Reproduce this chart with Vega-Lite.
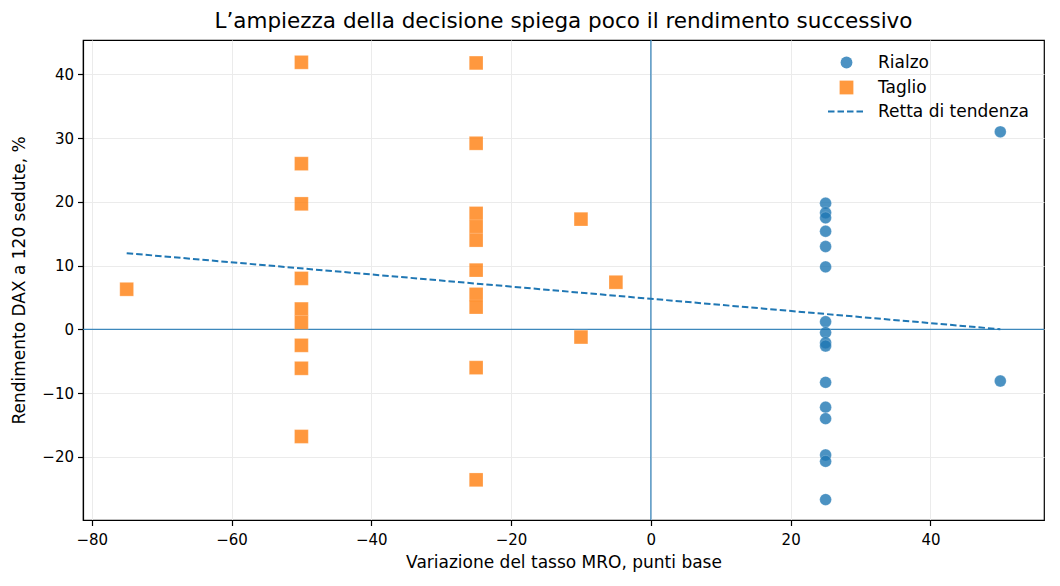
{
  "$schema": "https://vega.github.io/schema/vega-lite/v6.json",
  "width": 961,
  "height": 480,
  "autosize": {"type": "none"},
  "padding": {"left": 83, "top": 40, "right": 16, "bottom": 66},
  "background": "white",
  "title": {
    "text": "L’ampiezza della decisione spiega poco il rendimento successivo",
    "font": "DejaVu Sans",
    "fontSize": 21.5,
    "fontWeight": "normal",
    "color": "black",
    "anchor": "middle",
    "offset": 7
  },
  "datasets": {
    "punti": [
      {"tipo": "Taglio", "bp": -75, "ret": 6.3},
      {"tipo": "Taglio", "bp": -50, "ret": 41.9},
      {"tipo": "Taglio", "bp": -50, "ret": 26.0},
      {"tipo": "Taglio", "bp": -50, "ret": 19.7},
      {"tipo": "Taglio", "bp": -50, "ret": 8.0},
      {"tipo": "Taglio", "bp": -50, "ret": 3.2},
      {"tipo": "Taglio", "bp": -50, "ret": 1.1},
      {"tipo": "Taglio", "bp": -50, "ret": -2.5},
      {"tipo": "Taglio", "bp": -50, "ret": -6.1},
      {"tipo": "Taglio", "bp": -50, "ret": -16.8},
      {"tipo": "Taglio", "bp": -25, "ret": 41.8},
      {"tipo": "Taglio", "bp": -25, "ret": 29.2},
      {"tipo": "Taglio", "bp": -25, "ret": 18.2},
      {"tipo": "Taglio", "bp": -25, "ret": 16.1},
      {"tipo": "Taglio", "bp": -25, "ret": 14.0},
      {"tipo": "Taglio", "bp": -25, "ret": 9.3},
      {"tipo": "Taglio", "bp": -25, "ret": 5.5},
      {"tipo": "Taglio", "bp": -25, "ret": 3.5},
      {"tipo": "Taglio", "bp": -25, "ret": -6.0},
      {"tipo": "Taglio", "bp": -25, "ret": -23.6},
      {"tipo": "Taglio", "bp": -10, "ret": 17.3},
      {"tipo": "Taglio", "bp": -10, "ret": -1.2},
      {"tipo": "Taglio", "bp": -5, "ret": 7.4},
      {"tipo": "Rialzo", "bp": 25, "ret": 19.8},
      {"tipo": "Rialzo", "bp": 25, "ret": 18.3},
      {"tipo": "Rialzo", "bp": 25, "ret": 17.5},
      {"tipo": "Rialzo", "bp": 25, "ret": 15.4},
      {"tipo": "Rialzo", "bp": 25, "ret": 13.0},
      {"tipo": "Rialzo", "bp": 25, "ret": 9.8},
      {"tipo": "Rialzo", "bp": 25, "ret": 1.2},
      {"tipo": "Rialzo", "bp": 25, "ret": -0.5},
      {"tipo": "Rialzo", "bp": 25, "ret": -2.1},
      {"tipo": "Rialzo", "bp": 25, "ret": -2.6},
      {"tipo": "Rialzo", "bp": 25, "ret": -8.3},
      {"tipo": "Rialzo", "bp": 25, "ret": -12.2},
      {"tipo": "Rialzo", "bp": 25, "ret": -14.0},
      {"tipo": "Rialzo", "bp": 25, "ret": -19.7},
      {"tipo": "Rialzo", "bp": 25, "ret": -20.7},
      {"tipo": "Rialzo", "bp": 25, "ret": -26.7},
      {"tipo": "Rialzo", "bp": 50, "ret": 31.0},
      {"tipo": "Rialzo", "bp": 50, "ret": -8.1}
    ],
    "trend": [
      {"serie": "Retta di tendenza", "bp": -75, "ret": 11.96},
      {"serie": "Retta di tendenza", "bp": 50, "ret": 0.03}
    ],
    "ref": [{"zero": 0}]
  },
  "layer": [
    {
      "data": {"name": "ref"},
      "mark": {"type": "rule", "color": "#1f77b4", "strokeWidth": 1.3, "opacity": 0.85},
      "encoding": {
        "x": {"field": "zero", "type": "quantitative", "scale": {"domain": [-81.25, 56.25], "nice": false, "zero": false}}
      }
    },
    {
      "data": {"name": "ref"},
      "mark": {"type": "rule", "color": "#1f77b4", "strokeWidth": 1.3, "opacity": 0.85},
      "encoding": {
        "y": {"field": "zero", "type": "quantitative", "scale": {"domain": [-29.9, 45.4], "nice": false, "zero": false}}
      }
    },
    {
      "data": {"name": "punti"},
      "mark": {"type": "point", "filled": true, "opacity": 0.8, "stroke": "white", "strokeWidth": 0.4, "strokeOpacity": 0.6},
      "encoding": {
        "x": {
          "field": "bp", "type": "quantitative",
          "scale": {"domain": [-81.25, 56.25], "nice": false, "zero": false},
          "axis": {"values": [-80, -60, -40, -20, 0, 20, 40], "title": "Variazione del tasso MRO, punti base", "format": "d", "labelExpr": "replace(datum.label, '-', '−')"}
        },
        "y": {
          "field": "ret", "type": "quantitative",
          "scale": {"domain": [-29.9, 45.4], "nice": false, "zero": false},
          "axis": {"values": [-20, -10, 0, 10, 20, 30, 40], "title": "Rendimento DAX a 120 sedute, %", "format": "d", "labelExpr": "replace(datum.label, '-', '−')"}
        },
        "color": {
          "field": "tipo", "type": "nominal",
          "scale": {"domain": ["Rialzo", "Taglio"], "range": ["#1f77b4", "#ff7f0e"]},
          "legend": {
            "title": null, "orient": "none", "legendX": 755, "legendY": 14,
            "labelFont": "DejaVu Sans", "labelFontSize": 17, "labelColor": "black",
            "labelOffset": 23, "rowPadding": 7, "symbolSize": 170, "symbolOpacity": 0.8, "symbolStrokeWidth": 0
          }
        },
        "shape": {
          "field": "tipo", "type": "nominal",
          "scale": {"domain": ["Rialzo", "Taglio"], "range": ["circle", "square"]},
          "legend": null
        },
        "size": {
          "field": "tipo", "type": "nominal",
          "scale": {"domain": ["Rialzo", "Taglio"], "range": [140, 190]},
          "legend": null
        }
      }
    },
    {
      "data": {"name": "trend"},
      "mark": {"type": "line", "color": "#1f77b4", "strokeWidth": 2, "strokeDash": [6.5, 3]},
      "encoding": {
        "x": {"field": "bp", "type": "quantitative"},
        "y": {"field": "ret", "type": "quantitative"},
        "strokeDash": {
          "field": "serie", "type": "nominal",
          "scale": {"domain": ["Retta di tendenza"], "range": [[6.5, 3]]},
          "legend": {
            "title": null, "orient": "none", "legendX": 744, "legendY": 53,
            "labelFont": "DejaVu Sans", "labelFontSize": 17, "labelColor": "black",
            "labelOffset": 14, "symbolType": "stroke", "symbolSize": 1225,
            "symbolStrokeColor": "#1f77b4", "symbolStrokeWidth": 2, "symbolDash": [6.5, 3]
          }
        }
      }
    }
  ],
  "config": {
    "view": {"stroke": "black", "strokeWidth": 1.2},
    "axis": {
      "domainColor": "black",
      "domainWidth": 1.2,
      "gridColor": "#ebebeb",
      "gridWidth": 1,
      "tickColor": "black",
      "tickSize": 5.5,
      "tickWidth": 1.2,
      "labelFont": "DejaVu Sans",
      "labelFontSize": 15,
      "labelColor": "black",
      "labelPadding": 4,
      "titleFont": "DejaVu Sans",
      "titleFontSize": 17,
      "titleFontWeight": "normal",
      "titleColor": "black"
    },
    "axisX": {"labelPadding": 7, "titlePadding": 7},
    "axisY": {"titlePadding": 13}
  }
}
